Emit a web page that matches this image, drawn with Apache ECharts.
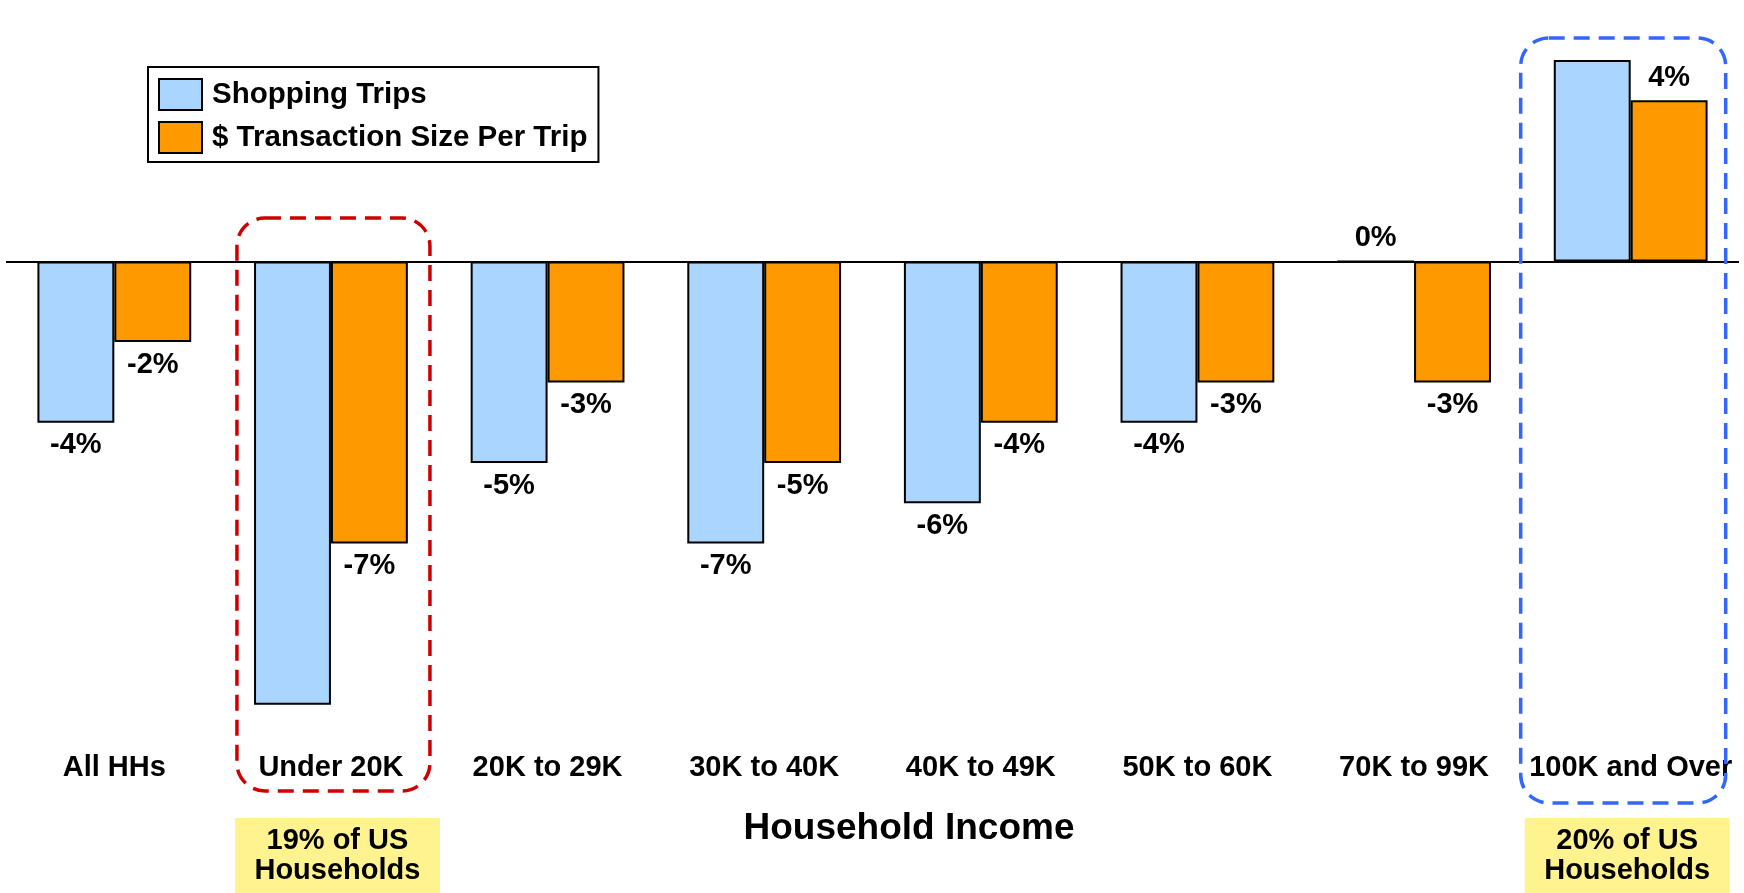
<!DOCTYPE html>
<html>
<head>
<meta charset="utf-8">
<script src="https://cdn.jsdelivr.net/npm/echarts@6/dist/echarts.min.js"></script>
<style>
  html, body { margin: 0; padding: 0; background: #fff; }
  #main { width: 1744px; height: 893px; }
</style>
</head>
<body>
<div id="main"></div>
<script>
const categories = ['All HHs', 'Under 20K', '20K to 29K', '30K to 40K', '40K to 49K', '50K to 60K', '70K to 99K', '100K and Over'];
const seriesNames = ['Shopping Trips', '$ Transaction Size Per Trip'];
const tripsValues = [-4, -11, -5, -7, -6, -4, 0, 5];
const sizeValues = [-2, -7, -3, -5, -4, -3, -3, 4];
// the original leaves these two shopping-trip bars without a value label
const tripsHiddenLabels = [1, 7];
const sizeHiddenLabels = [];
const noteCategories = ['Under 20K', '100K and Over'];
const noteTexts = ['19% of US\nHouseholds', '20% of US\nHouseholds'];

const FONT = '"Liberation Sans", Arial, sans-serif';

const toData = (vals, hidden) => vals.map((v, i) => ({
    value: v,
    label: { show: !hidden.includes(i), position: v >= 0 ? 'top' : 'bottom' }
}));

const barLabel = {
    show: true,
    distance: 8,
    formatter: p => p.value + '%',
    fontFamily: FONT,
    fontSize: 29,
    fontWeight: 'bold',
    color: '#000'
};

const chart = echarts.init(document.getElementById('main'));

chart.setOption({
    animation: false,
    textStyle: { fontFamily: FONT },
    grid: { left: 6, right: 5, top: 19.7, bottom: 147.9 },
    legend: {
        orient: 'vertical',
        left: 148,
        top: 67,
        padding: [11, 11, 8, 10],
        itemWidth: 43,
        itemHeight: 31,
        itemGap: 10,
        icon: 'rect',
        borderColor: '#000',
        borderWidth: 2,
        itemStyle: { borderColor: '#000', borderWidth: 2 },
        textStyle: { fontFamily: FONT, fontSize: 29.5, fontWeight: 'bold', color: '#000', padding: [0, 0, 0, 5] },
        data: seriesNames
    },
    xAxis: {
        type: 'category',
        data: categories,
        axisLine: { show: false, onZero: false },
        axisTick: { show: false },
        axisLabel: { interval: 0, margin: 8, fontFamily: FONT, fontSize: 29, fontWeight: 'bold', color: '#000' }
    },
    yAxis: {
        type: 'value',
        min: -12,
        max: 6,
        show: false
    },
    series: [
        {
            name: seriesNames[0],
            type: 'bar',
            barGap: '0%',
            barCategoryGap: '29%',
            itemStyle: { color: '#A9D5FE', borderColor: '#000', borderWidth: 2 },
            label: barLabel,
            data: toData(tripsValues, tripsHiddenLabels),
            markLine: {
                silent: true,
                symbol: 'none',
                label: { show: false },
                lineStyle: { color: '#000', width: 2, type: 'solid' },
                data: [{ yAxis: 0 }]
            }
        },
        {
            name: seriesNames[1],
            type: 'bar',
            barGap: '0%',
            barCategoryGap: '29%',
            itemStyle: { color: '#FF9900', borderColor: '#000', borderWidth: 2 },
            label: barLabel,
            data: toData(sizeValues, sizeHiddenLabels)
        }
    ]
});

// annotations placed around the category columns
const cx = name => chart.convertToPixel({ xAxisIndex: 0 }, name);
const boxColors = ['#CC0000', '#3366FF'];
const boxes = [
    { dx: -94, w: 193, top: 218, bottom: 791, note: -2 },
    { dx: -110, w: 205, top: 38, bottom: 803, note: -106 }
];
const graphics = [];
noteCategories.forEach((name, i) => {
    const c = cx(name);
    const b = boxes[i];
    graphics.push({
        type: 'rect',
        shape: { x: c + b.dx, y: b.top, width: b.w, height: b.bottom - b.top, r: 28 },
        style: { fill: 'none', stroke: boxColors[i], lineWidth: 3.5, lineDash: [16, 9] },
        z: 10
    });
    const nx = c + (i === 0 ? b.dx - 2 : b.dx + 4);
    graphics.push({
        type: 'rect',
        shape: { x: nx, y: 818, width: 205, height: 75 },
        style: { fill: '#FFF38F' }
    });
    graphics.push({
        type: 'text',
        x: nx + 102.5,
        y: 856,
        style: {
            text: noteTexts[i],
            fontFamily: FONT,
            fontSize: 29,
            fontWeight: 'bold',
            lineHeight: 30,
            fill: '#000',
            align: 'center',
            verticalAlign: 'middle'
        },
        z: 11
    });
});
graphics.push({
    type: 'text',
    x: 909,
    y: 829,
    style: {
        text: 'Household Income',
        fontFamily: FONT,
        fontSize: 37,
        fontWeight: 'bold',
        fill: '#000',
        align: 'center',
        verticalAlign: 'middle'
    }
});
chart.setOption({ graphic: graphics });
</script>
</body>
</html>
